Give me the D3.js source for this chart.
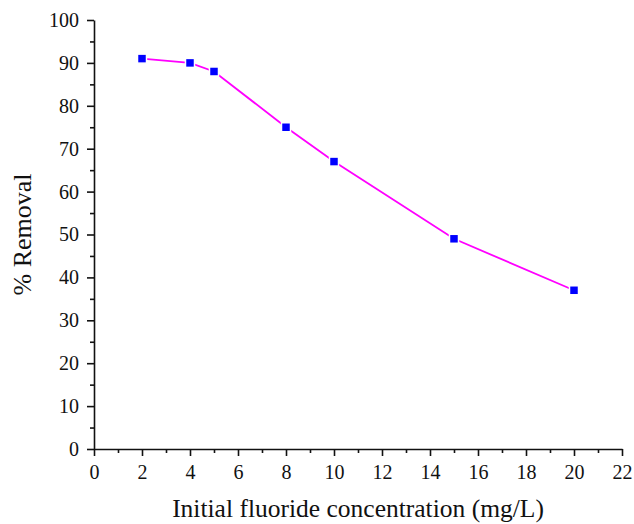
<!DOCTYPE html>
<html>
<head>
<meta charset="utf-8">
<script src="https://cdn.jsdelivr.net/npm/d3@7"></script>
<style>
  body { margin: 0; background: #fff; }
</style>
</head>
<body>
<div id="chart"></div>
<script>
var width  = 634;
var height = 524;
var serif = "'Liberation Serif', 'Times New Roman', 'DejaVu Serif', serif";

// data
var concentration = [2, 4, 5, 8, 10, 15, 20];
var removal       = [91, 90, 88, 75, 67, 49, 37];
var xTicks = d3.range(0, 23, 2);
var yTicks = d3.range(0, 101, 10);

var m = { left: 94, right: 12, top: 20, bottom: 75 };

var x = d3.scaleLinear().domain([0, 22]).range([m.left, width - m.right]);
var y = d3.scaleLinear().domain([0, 100]).range([height - m.bottom, m.top]);

var svg = d3.select('#chart').append('svg')
  .attr('width', width)
  .attr('height', height)
  .attr('font-family', serif)
  .style('display', 'block');

// minor ticks
svg.append('g')
  .attr('transform', 'translate(0,' + y(0) + ')')
  .call(d3.axisBottom(x).tickValues(d3.range(1, 22, 2)).tickSize(4).tickFormat(''))
  .call(function(g) { g.select('.domain').remove(); });
svg.append('g')
  .attr('transform', 'translate(' + x(0) + ',0)')
  .call(d3.axisLeft(y).tickValues(d3.range(5, 100, 10)).tickSize(4).tickFormat(''))
  .call(function(g) { g.select('.domain').remove(); });

// major axes
svg.append('g')
  .attr('class', 'axis')
  .attr('transform', 'translate(0,' + y(0) + ')')
  .call(d3.axisBottom(x).tickValues(xTicks).tickSize(7).tickSizeOuter(0).tickPadding(9));
svg.append('g')
  .attr('class', 'axis')
  .attr('transform', 'translate(' + x(0) + ',0)')
  .call(d3.axisLeft(y).tickValues(yTicks).tickSize(7).tickSizeOuter(0).tickPadding(8));

// d3 puts sans-serif on the axis groups; drop it so the serif face is inherited
svg.selectAll('g').attr('font-family', null).attr('font-size', null);

svg.selectAll('.tick line').attr('stroke', '#111').attr('stroke-width', 1.6);
svg.selectAll('.domain').attr('stroke', '#111').attr('stroke-width', 1.6);
svg.selectAll('.tick text')
  .attr('font-size', 20)
  .attr('fill', '#111');

// axis titles
svg.append('text')
  .attr('x', (x(0) + x(22)) / 2)
  .attr('y', 517)
  .attr('text-anchor', 'middle')
  .attr('font-size', 25.5)
  .attr('fill', '#111')
  .text('Initial fluoride concentration (mg/L)');

svg.append('text')
  .attr('transform', 'translate(31,' + y(50) + ')rotate(-90)')
  .attr('text-anchor', 'middle')
  .attr('font-size', 26)
  .attr('fill', '#111')
  .text('% Removal');

var pts = concentration.map(function(c, i) { return [c, removal[i]]; });

var line = d3.line()
  .x(function(d) { return x(d[0]); })
  .y(function(d) { return y(d[1]); });

svg.append('path')
  .datum(pts)
  .attr('d', line)
  .attr('fill', 'none')
  .attr('stroke', '#ff00ff')
  .attr('stroke-width', 1.8);

var s = 9;
svg.selectAll('rect.pt')
  .data(pts)
  .enter()
  .append('rect')
  .attr('class', 'pt')
  .attr('x', function(d) { return x(d[0]) - s / 2; })
  .attr('y', function(d) { return y(d[1]) - s / 2; })
  .attr('width', s)
  .attr('height', s)
  .attr('fill', '#0000ff')
  .attr('stroke', '#fff')
  .attr('stroke-width', 1.5);
</script>
</body>
</html>
